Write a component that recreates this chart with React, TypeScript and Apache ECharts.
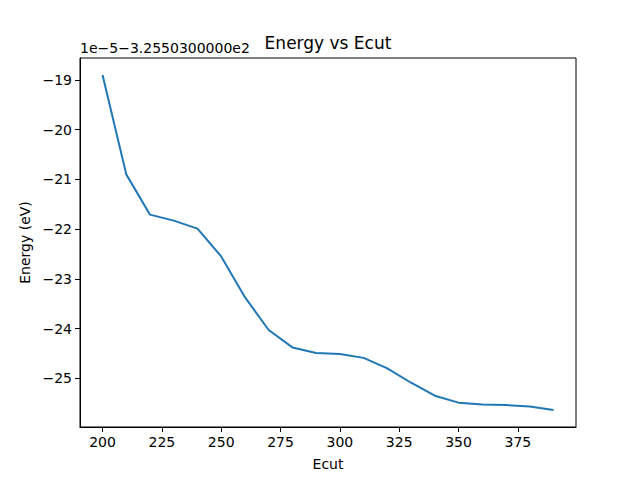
import React, { useRef, useEffect } from 'react';
import * as echarts from 'echarts';

// Ecut values (x) and energy offsets in units of 1e-5 eV relative to -325.503
const ecut = [200, 210, 220, 230, 240, 250, 260, 270, 280, 290, 300, 310, 320, 330, 340, 350, 360, 370, 380, 390];
const energy = [
  -18.9, -20.9, -21.71, -21.83, -21.99, -22.55, -23.37, -24.03, -24.38, -24.49,
  -24.51, -24.59, -24.8, -25.09, -25.35, -25.49, -25.53, -25.54, -25.57, -25.64,
];
const xTicks = [200, 225, 250, 275, 300, 325, 350, 375];
const yTicks = [-25, -24, -23, -22, -21, -20, -19];

const FONT = 'DejaVu Sans';

const fmt = (v: number) => (v < 0 ? '\u2212' + Math.abs(v) : String(v));

const App: React.FC = () => {
  const chartRef = useRef<HTMLDivElement>(null);

  useEffect(() => {
    if (!chartRef.current) return;
    const chart = echarts.init(chartRef.current, null, { renderer: 'svg' });

    chart.setOption({
      animation: false,
      backgroundColor: '#ffffff',
      graphic: [
        {
          type: 'text',
          x: 328,
          y: 43,
          style: {
            text: 'Energy vs Ecut',
            font: `17px "${FONT}"`,
            fill: '#000',
            align: 'center',
            verticalAlign: 'middle',
          },
        },
        {
          type: 'text',
          left: 80,
          top: 41,
          style: { text: '1e\u22125\u22123.2550300000e2', font: `14px "${FONT}"`, fill: '#000' },
        },
      ],
      grid: {
        left: 80,
        right: 64,
        top: 58,
        bottom: 53,
        show: true,
        borderColor: '#000',
        borderWidth: 1,
        backgroundColor: 'transparent',
      },
      xAxis: {
        type: 'value',
        min: 190.5,
        max: 399.5,
        name: 'Ecut',
        nameLocation: 'middle',
        nameGap: 30,
        nameTextStyle: { fontFamily: FONT, fontSize: 14, color: '#000' },
        axisLine: { show: true, onZero: false, lineStyle: { color: '#000' } },
        axisTick: { show: true, inside: false, length: 5, customValues: xTicks, lineStyle: { color: '#000' } },
        axisLabel: { customValues: xTicks, fontFamily: FONT, fontSize: 14, color: '#000', margin: 8 },
        splitLine: { show: false },
      },
      yAxis: {
        type: 'value',
        min: -25.98,
        max: -18.56,
        name: 'Energy (eV)',
        nameLocation: 'middle',
        nameGap: 45,
        nameTextStyle: { fontFamily: FONT, fontSize: 14, color: '#000' },
        axisLine: { show: true, onZero: false, lineStyle: { color: '#000' } },
        axisTick: { show: true, inside: false, length: 5, customValues: yTicks, lineStyle: { color: '#000' } },
        axisLabel: {
          customValues: yTicks,
          fontFamily: FONT,
          fontSize: 14,
          color: '#000',
          margin: 8,
          formatter: (v: number) => fmt(v),
        },
        splitLine: { show: false },
      },
      series: [
        {
          type: 'line',
          data: ecut.map((x, i) => [x, energy[i]]),
          showSymbol: false,
          symbol: 'none',
          lineStyle: { color: '#1f77b4', width: 2 },
        },
      ],
    });

    return () => {
      chart.dispose();
    };
  }, []);

  return <div ref={chartRef} style={{ width: 640, height: 480, margin: -8 }} />;
};

export default App;
